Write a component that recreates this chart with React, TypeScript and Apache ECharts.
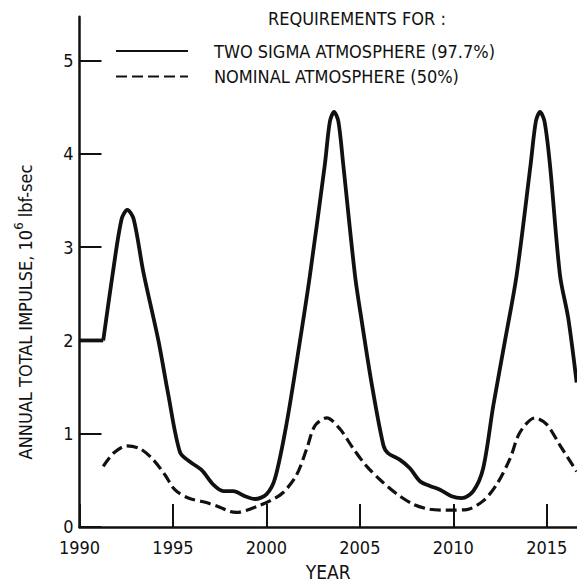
import React, { useEffect, useRef } from "react";
import * as echarts from "echarts";

const FONT = '"Liberation Sans Narrow", "DejaVu Sans Condensed", "Arial Narrow", sans-serif';

const seriesNames = ["TWO SIGMA ATMOSPHERE (97.7%)", "NOMINAL ATMOSPHERE (50%)"];
const legendTitle = "REQUIREMENTS FOR :";
const xAxisName = "YEAR";
const yAxisName = ["ANNUAL TOTAL IMPULSE, 10", "6", " lbf-sec"];

const xTicks = [1990, 1995, 2000, 2005, 2010, 2015];
const yTicks = [0, 1, 2, 3, 4, 5];

// flat start of the two-sigma requirement
const twoSigmaFlatYears = [1990, 1991.27];
const twoSigmaFlatValues = [2.0, 2.0];

const twoSigmaYears = [
  1991.27, 1991.78, 1992.25, 1992.56, 1992.9, 1993.42, 1994.22, 1994.75, 1995.38,
  1995.91, 1996.54, 1997.16, 1997.7, 1998.23, 1998.86, 1999.39, 2000.0, 2000.46, 2001.09,
  2001.8, 2002.33, 2003.13, 2003.4, 2003.62, 2003.85, 2004.11, 2004.74, 2005.1, 2005.63,
  2006.26, 2006.52, 2007.15, 2007.68, 2008.22, 2008.75, 2009.29, 2009.91, 2010.45, 2011.07,
  2011.6, 2012.14, 2012.77, 2013.39, 2014.14, 2014.42, 2014.64, 2014.88, 2015.17, 2015.71,
  2016.15, 2016.6,
];
const twoSigmaValues = [
  2.0, 2.72, 3.3, 3.4, 3.3, 2.73, 2.0, 1.42, 0.8,
  0.7, 0.61, 0.455, 0.385, 0.385, 0.33, 0.3, 0.35, 0.52, 1.12,
  2.0, 2.7, 3.89, 4.35, 4.45, 4.35, 3.89, 2.7, 2.21, 1.54,
  0.876, 0.79, 0.72, 0.63, 0.49, 0.44, 0.4, 0.33, 0.31, 0.385,
  0.63, 1.3, 2.0, 2.7, 3.89, 4.35, 4.45, 4.35, 3.89, 2.7,
  2.24, 1.55,
];

const nominalYears = [
  1991.27, 1991.81, 1992.53, 1993.24, 1993.95, 1994.57, 1995.1, 1995.82, 1996.62, 1997.34,
  1998.05, 1998.41, 1998.95, 1999.57, 2000.19, 2000.9, 2001.62, 2002.16, 2002.6, 2003.23,
  2003.94, 2004.65, 2005.37, 2006.17, 2006.97, 2007.86, 2008.75, 2009.65, 2010.72, 2011.6,
  2012.32, 2013.03, 2013.57, 2014.37, 2015.0, 2015.71, 2016.6,
];
const nominalValues = [
  0.65, 0.79, 0.87, 0.84, 0.72, 0.56, 0.4, 0.31, 0.27, 0.226,
  0.166, 0.156, 0.18, 0.226, 0.28, 0.37, 0.56, 0.84, 1.086, 1.17,
  1.05, 0.84, 0.65, 0.49, 0.356, 0.244, 0.19, 0.18, 0.187, 0.28,
  0.455, 0.73, 1.016, 1.17, 1.1, 0.876, 0.595,
];

const INK = "#111111";

export default function App() {
  const ref = useRef<HTMLDivElement>(null);

  useEffect(() => {
    if (!ref.current) return;
    const chart = echarts.init(ref.current, undefined, { renderer: "svg" });
    const pair = (xs: number[], ys: number[]) => xs.map((x, i) => [x, ys[i]]);

    chart.setOption({
      animation: false,
      backgroundColor: "#ffffff",
      textStyle: { fontFamily: FONT, color: INK },
      title: {
        text: legendTitle,
        left: 263,
        top: 4,
        textStyle: { fontFamily: FONT, fontSize: 18, fontWeight: "normal", color: INK },
      },
      legend: {
        orient: "vertical",
        left: 115,
        top: 42,
        padding: 0,
        itemWidth: 72,
        itemHeight: 14,
        itemGap: 7.5,
        data: seriesNames,
        itemStyle: { opacity: 0 },
        textStyle: {
          fontFamily: FONT,
          fontSize: 18,
          color: INK,
          padding: [0, 0, 0, 21],
        },
      },
      grid: { left: 79.5, right: 0, top: 16.8, bottom: 49.5, containLabel: false },
      xAxis: {
        type: "value",
        min: 1990,
        max: 2016.62,
        interval: 5,
        name: xAxisName,
        nameLocation: "middle",
        nameGap: 35,
        nameTextStyle: { fontFamily: FONT, fontSize: 19, color: INK },
        splitLine: { show: false },
        axisLine: { show: true, lineStyle: { color: INK, width: 2.5 } },
        axisTick: {
          show: true,
          inside: true,
          length: 23,
          customValues: xTicks,
          lineStyle: { color: INK, width: 2 },
        },
        axisLabel: {
          fontFamily: FONT,
          fontSize: 18,
          color: INK,
          margin: 11,
          customValues: xTicks,
          formatter: (v: number) => String(v),
        },
      },
      yAxis: {
        type: "value",
        min: 0,
        max: 5.47,
        interval: 1,
        splitLine: { show: false },
        axisLine: { show: true, lineStyle: { color: INK, width: 2.5 } },
        axisTick: {
          show: true,
          inside: true,
          length: 22,
          customValues: yTicks,
          lineStyle: { color: INK, width: 2 },
        },
        axisLabel: {
          fontFamily: FONT,
          fontSize: 18,
          color: INK,
          margin: 6,
          customValues: yTicks,
          formatter: (v: number) => (v === 0 ? "{z|0}" : String(v)),
          rich: {
            z: { fontFamily: FONT, fontSize: 18, color: INK, lineHeight: 14, padding: [0, 0, 1, 0] },
          },
        },
      },
      graphic: [
        {
          type: "text",
          x: 23,
          y: 312,
          rotation: Math.PI / 2,
          style: {
            text: `{a|${yAxisName[0]}}{s|${yAxisName[1]}}{a|${yAxisName[2]}}`,
            align: "center",
            verticalAlign: "middle",
            rich: {
              a: { fontFamily: FONT, fontSize: 18, fill: INK, color: INK, verticalAlign: "bottom" },
              s: { fontFamily: FONT, fontSize: 13, fill: INK, color: INK, verticalAlign: "top", padding: [0, 0, 10, 0] },
            },
            fill: INK,
          },
        },
      ],
      series: [
        {
          name: seriesNames[0],
          type: "line",
          data: pair(twoSigmaFlatYears, twoSigmaFlatValues),
          symbol: "none",
          lineStyle: { color: INK, width: 3.8 },
          itemStyle: { color: INK },
        },
        {
          name: seriesNames[0],
          type: "line",
          data: pair(twoSigmaYears, twoSigmaValues),
          smooth: 0.3,
          symbol: "none",
          lineStyle: { color: INK, width: 3.8 },
          itemStyle: { color: INK },
        },
        {
          name: seriesNames[1],
          type: "line",
          data: pair(nominalYears, nominalValues),
          smooth: 0.3,
          symbol: "none",
          lineStyle: { color: INK, width: 3.2, type: [11, 5] },
          itemStyle: { color: INK },
        },
      ],
    });

    return () => chart.dispose();
  }, []);

  return (
    <div
      ref={ref}
      style={{ position: "fixed", left: 0, top: 0, width: 577, height: 586, background: "#fff" }}
    />
  );
}
